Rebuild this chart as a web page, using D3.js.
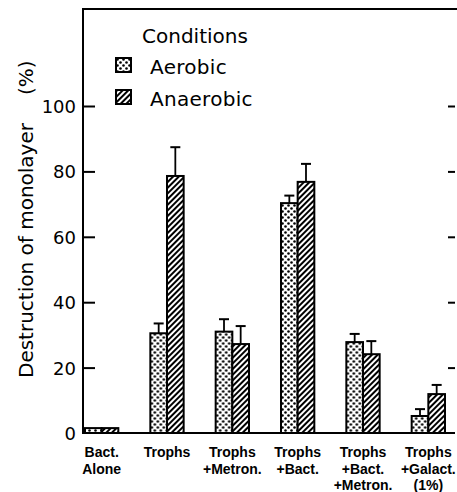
<!DOCTYPE html>
<html>
<head>
<meta charset="utf-8">
<script src="https://cdn.jsdelivr.net/npm/d3@7"></script>
<style>
  html, body { margin: 0; padding: 0; background: #fff; }
  svg { display: block; }
</style>
</head>
<body>
<div id="chart"></div>
<script>
// ---- data ----
const categories = ["Bact. Alone", "Trophs", "Trophs +Metron.", "Trophs +Bact.", "Trophs +Bact. +Metron.", "Trophs +Galact. (1%)"];
const categoryLines = [["Bact.", "Alone"], ["Trophs"], ["Trophs", "+Metron."], ["Trophs", "+Bact."], ["Trophs", "+Bact.", "+Metron."], ["Trophs", "+Galact.", "(1%)"]];
const seriesNames = ["Aerobic", "Anaerobic"];
const aerobic = [1.5, 30.5, 31, 70.3, 27.8, 5.2];
const aerobicErr = [0, 3, 3.8, 2.3, 2.5, 2.1];
const anaerobic = [1.5, 78.6, 27.2, 76.8, 24.1, 11.9];
const anaerobicErr = [0, 8.8, 5.5, 5.5, 4.0, 2.8];
const yTicks = [0, 20, 40, 60, 80, 100];
const legendTitle = "Conditions";
const yTitle = "Destruction of monolayer";
const yUnit = "(%)";

// ---- layout ----
const W = 457, H = 492;
const svg = d3.select("#chart").append("svg").attr("width", W).attr("height", H);
const defs = svg.append("defs");

// dotted pattern (aerobic)
const pd = defs.append("pattern").attr("id", "dots").attr("patternUnits", "userSpaceOnUse")
  .attr("width", 6).attr("height", 6);
pd.append("rect").attr("width", 6).attr("height", 6).attr("fill", "#fff");
pd.append("circle").attr("cx", 1.5).attr("cy", 1.5).attr("r", 1.3).attr("fill", "#000");
pd.append("circle").attr("cx", 4.5).attr("cy", 4.5).attr("r", 1.3).attr("fill", "#000");

// hatch pattern (anaerobic)
const ph = defs.append("pattern").attr("id", "hatch").attr("patternUnits", "userSpaceOnUse")
  .attr("width", 4).attr("height", 4).attr("patternTransform", "rotate(45)");
ph.append("rect").attr("width", 4).attr("height", 4).attr("fill", "#fff");
ph.append("line").attr("x1", 1).attr("y1", 0).attr("x2", 1).attr("y2", 4)
  .attr("stroke", "#000").attr("stroke-width", 2);

const fills = ["url(#dots)", "url(#hatch)"];

const axisX = 83, baseY = 433, topY = 9, rightX = 455;

const y = d3.scaleLinear().domain([0, 130]).range([baseY, baseY - 130 * 3.27]);
const x = d3.scaleBand().domain(categories).range([69, 461]).paddingInner(0.49).paddingOuter(0.245);
const xs = d3.scaleBand().domain(seriesNames).range([0, x.bandwidth()]);

const font = "DejaVu Sans, sans-serif";

// frame lines
svg.append("line").attr("x1", axisX).attr("x2", W).attr("y1", topY).attr("y2", topY)
  .attr("stroke", "#000").attr("stroke-width", 2);

// left axis
const leftAxis = d3.axisLeft(y).tickValues(yTicks).tickSize(-12).tickPadding(7).tickFormat(d3.format("d"));
const gL = svg.append("g").attr("transform", `translate(${axisX},0)`).call(leftAxis);
gL.select(".domain").remove();
gL.selectAll(".tick line").attr("stroke", "#000").attr("stroke-width", 2)
  .filter(d => d === 0).remove();
gL.selectAll(".tick text").attr("font-family", font).attr("font-size", 18)
  .attr("fill", "#000").attr("x", -7).attr("dy", "0.36em");
svg.append("line").attr("x1", axisX).attr("x2", axisX).attr("y1", topY - 1).attr("y2", baseY + 1)
  .attr("stroke", "#000").attr("stroke-width", 2);

// right ticks
const rightAxis = d3.axisRight(y).tickValues(yTicks.filter(d => d > 0)).tickSize(-7).tickFormat("");
const gR = svg.append("g").attr("transform", `translate(${rightX},0)`).call(rightAxis);
gR.select(".domain").remove();
gR.selectAll(".tick line").attr("stroke", "#000").attr("stroke-width", 2);

// bars
const rows = categories.map((c, i) => ({
  cat: c,
  vals: [
    { s: seriesNames[0], v: aerobic[i], e: aerobicErr[i], k: 0 },
    { s: seriesNames[1], v: anaerobic[i], e: anaerobicErr[i], k: 1 }
  ]
}));

const grp = svg.append("g").selectAll("g").data(rows).join("g")
  .attr("transform", d => `translate(${x(d.cat)},0)`);

// error bars
grp.selectAll("g.err").data(d => d.vals.filter(v => v.e > 0)).join("g").attr("class", "err")
  .each(function(d) {
    const g = d3.select(this);
    const cx = xs(d.s) + xs.bandwidth() / 2;
    g.append("line").attr("x1", cx).attr("x2", cx).attr("y1", y(d.v)).attr("y2", y(d.v + d.e))
      .attr("stroke", "#000").attr("stroke-width", 1.8);
    g.append("line").attr("x1", cx - 5).attr("x2", cx + 5).attr("y1", y(d.v + d.e)).attr("y2", y(d.v + d.e))
      .attr("stroke", "#000").attr("stroke-width", 2);
  });

grp.selectAll("rect").data(d => d.vals).join("rect")
  .attr("x", d => xs(d.s))
  .attr("width", xs.bandwidth())
  .attr("y", d => y(d.v))
  .attr("height", d => y(0) - y(d.v))
  .attr("fill", d => fills[d.k])
  .attr("stroke", "#000").attr("stroke-width", 2);

// baseline
svg.append("line").attr("x1", axisX - 1).attr("x2", rightX).attr("y1", baseY).attr("y2", baseY)
  .attr("stroke", "#000").attr("stroke-width", 2.2);

// category labels
const lab = svg.append("g").selectAll("text").data(categories).join("text")
  .attr("font-family", "Liberation Sans, Arial, sans-serif").attr("font-weight", "bold")
  .attr("font-size", 14).attr("text-anchor", "middle").attr("fill", "#000")
  .attr("transform", d => `translate(${x(d) + x.bandwidth() / 2},457)`);
lab.selectAll("tspan").data((d, i) => categoryLines[i]).join("tspan")
  .attr("x", 0).attr("y", (d, i) => i * 16.5).text(d => d);

// y title
svg.append("text").attr("transform", `translate(33,${y(0) - 55}) rotate(-90)`)
  .attr("font-family", font).attr("font-size", 20).attr("fill", "#000")
  .attr("text-anchor", "start").text(yTitle);
svg.append("text").attr("transform", `translate(33,${y(0) - 338}) rotate(-90)`)
  .attr("font-family", font).attr("font-size", 20).attr("fill", "#000")
  .attr("text-anchor", "start").text(yUnit);

// legend
const lg = svg.append("g");
lg.append("text").attr("x", 142).attr("y", 43).attr("font-family", font).attr("font-size", 20)
  .attr("fill", "#000").text(legendTitle);
const li = lg.selectAll("g.li").data(seriesNames).join("g").attr("class", "li")
  .attr("transform", (d, i) => `translate(116,${58 + i * 32})`);
li.append("rect").attr("width", 15).attr("height", 14).attr("fill", (d, i) => fills[i])
  .attr("stroke", "#000").attr("stroke-width", 2);
li.append("text").attr("x", 34).attr("y", 16).attr("font-family", font).attr("font-size", 20)
  .attr("fill", "#000").attr("letter-spacing", 0.3).text(d => d);
</script>
</body>
</html>
